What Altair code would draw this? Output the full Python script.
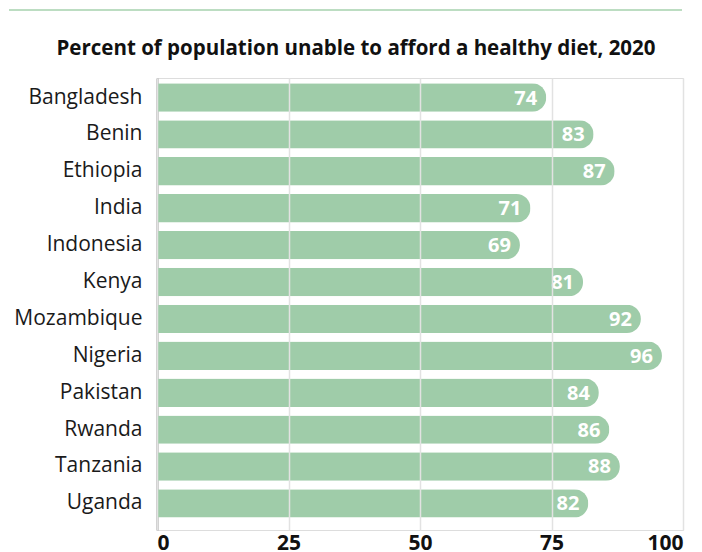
import altair as alt
import pandas as pd

countries = ["Bangladesh", "Benin", "Ethiopia", "India", "Indonesia", "Kenya",
             "Mozambique", "Nigeria", "Pakistan", "Rwanda", "Tanzania", "Uganda"]
values = [74, 83, 87, 71, 69, 81, 92, 96, 84, 86, 88, 82]
x_ticks = [0, 25, 50, 75, 100]
title_text = "Percent of population unable to afford a healthy diet, 2020"

df = pd.DataFrame({"country": countries, "value": values})

FONT = "Open Sans"
GREEN = "#9fcca9"

y_enc = alt.Y("country:N", sort=countries, title=None,
              scale=alt.Scale(paddingInner=0.23, paddingOuter=0.24, align=0.3),
              axis=alt.Axis(labelFont=FONT, labelFontSize=21, labelColor="#1a1a1a",
                            labelPadding=15, ticks=False, domain=True,
                            domainColor="#999999", domainWidth=2, grid=False))
x_enc = alt.X("value:Q", title=None,
              scale=alt.Scale(domain=[0, 100], nice=False, zero=True),
              axis=alt.Axis(values=x_ticks, labelFont=FONT, labelFontSize=21,
                            labelFontWeight="bold", labelColor="#111111",
                            labelPadding=2, ticks=False, domain=False,
                            grid=True, gridColor="#e2e2e2", gridWidth=1.5,
                            zindex=1))

bars = alt.Chart(df).mark_bar(color=GREEN, cornerRadiusEnd=14).encode(x=x_enc, y=y_enc)

labels = alt.Chart(df).mark_text(align="right", baseline="middle", dx=-9, dy=1,
                                 color="white", font=FONT, fontSize=20,
                                 fontWeight="bold").encode(
    x="value:Q", y=alt.Y("country:N", sort=countries), text="value:Q")

topline = alt.Chart(df).mark_rule(color="#bcdcc2", strokeWidth=1.5).encode(
    x=alt.value(-148), x2=alt.value(525), y=alt.value(-68))

chart = alt.layer(bars, labels, topline).properties(
    width=526, height=452,
    title=alt.TitleParams(title_text, font=FONT, fontSize=20.5, fontWeight="bold",
                          color="#111111", anchor="middle", frame="group",
                          dx=-64, offset=-66, baseline="alphabetic"),
    autosize=alt.AutoSizeParams(type="none"),
    padding={"left": 149, "top": 70, "right": 10, "bottom": 30},
).configure_view(stroke=None).configure(background="white")

chart.save("out.html", embed_options={"renderer": "svg", "actions": False})
